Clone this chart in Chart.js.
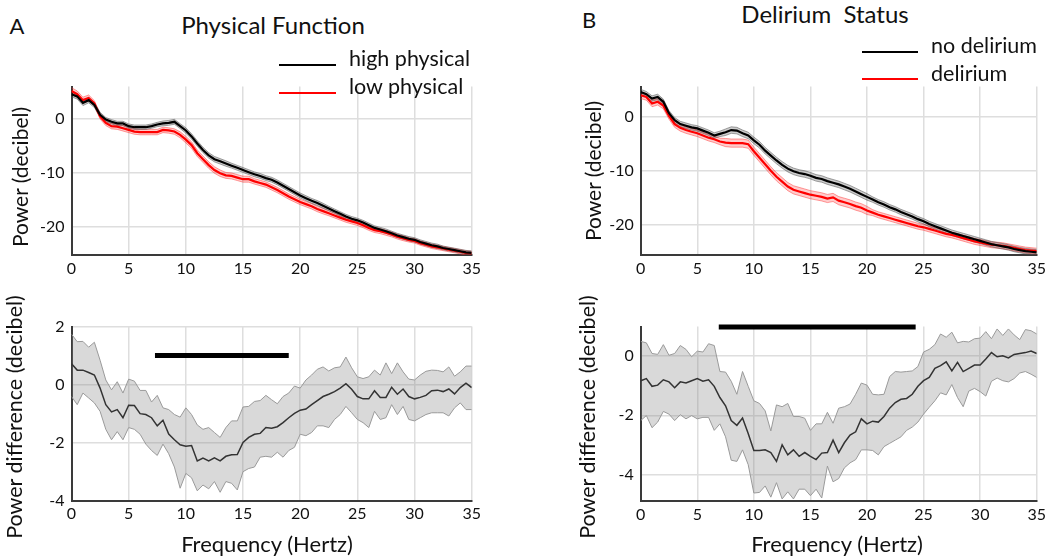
<!DOCTYPE html>
<html>
<head>
<meta charset="utf-8">
<script src="https://cdn.jsdelivr.net/npm/chart.js@4"></script>
<style>
  body { margin: 0; width: 1050px; height: 559px; background: #fff; position: relative; overflow: hidden; font-family: Lato, "Open Sans", sans-serif; color: #111; }
  canvas { position: absolute; }
  .t { position: absolute; white-space: pre; transform: translate(-50%, -50%); }
  .l { position: absolute; white-space: pre; transform: translate(0, -50%); }
  .rot { position: absolute; white-space: pre; transform: translate(-50%, -50%) rotate(-90deg); }
  .key { position: absolute; height: 0; border-top: 2px solid #000; }
</style>
</head>
<body>
<canvas id="topA" width="500" height="215" style="left:0;top:70px"></canvas>
<canvas id="topB" width="490" height="215" style="left:560px;top:70px"></canvas>
<canvas id="botA" width="500" height="220" style="left:0;top:310px"></canvas>
<canvas id="botB" width="490" height="220" style="left:560px;top:310px"></canvas>

<div class="t" style="left:17px;top:25px;font-size:22px">A</div>
<div class="t" style="left:273px;top:24px;font-size:24px">Physical Function</div>
<div class="key" style="left:279px;top:64px;width:57px;border-color:#000"></div>
<div class="key" style="left:279px;top:92px;width:57px;border-color:#f00"></div>
<div class="l" style="left:349px;top:58px;font-size:21.5px">high physical</div>
<div class="l" style="left:349px;top:86px;font-size:21.5px">low physical</div>

<div class="t" style="left:589px;top:19px;font-size:22px">B</div>
<div class="t" style="left:825px;top:13px;font-size:24px">Delirium  Status</div>
<div class="key" style="left:862px;top:51px;width:56px;border-color:#000"></div>
<div class="key" style="left:862px;top:78px;width:56px;border-color:#f00"></div>
<div class="l" style="left:931px;top:45px;font-size:21.5px">no delirium</div>
<div class="l" style="left:931px;top:73px;font-size:21.5px">delirium</div>

<div class="rot" style="left:19px;top:177px;font-size:21px">Power (decibel)</div>
<div class="rot" style="left:592px;top:171px;font-size:21px">Power (decibel)</div>
<div class="rot" style="left:14px;top:417px;font-size:21.5px">Power difference (decibel)</div>
<div class="rot" style="left:587px;top:417px;font-size:21.5px">Power difference (decibel)</div>
<div class="t" style="left:267px;top:543px;font-size:22px">Frequency (Hertz)</div>
<div class="t" style="left:837px;top:543px;font-size:22px">Frequency (Hertz)</div>

<script>
// frequency bins (Hz)
const freqs = [0,0.5,1,1.5,2,2.5,3,3.5,4,4.5,5,5.5,6,6.5,7,7.5,8,8.5,9,9.5,10,10.5,11,11.5,12,12.5,13,13.5,14,14.5,15,15.5,16,16.5,17,17.5,
  18,18.5,19,19.5,20,20.5,21,21.5,22,22.5,23,23.5,24,24.5,25,25.5,26,26.5,27,27.5,28,28.5,29,29.5,30,30.5,31,31.5,32,32.5,33,33.5,34,34.5,35];

// A: physical function, mean power (dB) and standard error
const highPhys = [4.5,4.1,2.9,3.4,2.5,0.7,-0.2,-0.6,-0.9,-0.9,-1.4,-1.6,-1.6,-1.6,-1.4,-1.1,-0.9,
  -0.8,-0.6,-1.4,-2.2,-3.3,-4.6,-5.8,-6.8,-7.5,-7.9,-8.3,-8.7,-9.1,-9.5,-9.9,-10.3,-10.6,-11.0,
  -11.3,-11.8,-12.4,-13.0,-13.6,-14.2,-14.7,-15.2,-15.6,-16.1,-16.6,-17.1,-17.6,-18.1,-18.5,-18.8,-19.2,-19.7,
  -20.2,-20.5,-20.8,-21.2,-21.6,-21.9,-22.2,-22.4,-22.8,-23.1,-23.4,-23.6,-23.9,-24.1,-24.3,-24.5,-24.7,-24.8];
const lowPhys = [5.1,4.5,3.4,3.8,2.8,0.4,-0.8,-1.4,-1.5,-1.8,-2.1,-2.4,-2.5,-2.5,-2.5,-2.5,-2.1,-2.2,
  -2.4,-3.0,-3.9,-4.9,-6.4,-7.5,-8.6,-9.5,-10.1,-10.5,-10.6,-10.9,-11.2,-11.2,-11.6,-11.9,-12.2,
  -12.7,-13.2,-13.8,-14.4,-14.9,-15.4,-15.8,-16.2,-16.7,-17.1,-17.5,-17.9,-18.3,-18.7,-19.0,-19.3,-19.7,-20.2,
  -20.6,-20.8,-21.1,-21.4,-21.8,-22.1,-22.4,-22.6,-23.0,-23.3,-23.6,-23.8,-24.0,-24.2,-24.4,-24.6,-24.8,-24.9];
const semHigh = [0.5,0.5,0.5,0.5,0.45,0.45,0.4,0.4,0.4,0.4,0.4,0.4,0.4,0.4,0.4,0.4,0.45,0.45,0.45,0.45,
  0.5,0.5,0.5,0.5,0.5,0.5,0.5,0.5,0.45,0.45,0.45,0.45,0.45,0.45,0.45,0.45,0.45,0.45,0.45,0.45,
  0.45,0.45,0.45,0.45,0.45,0.4,0.4,0.4,0.4,0.4,0.4,0.4,0.4,0.4,0.4,0.4,0.4,0.4,0.4,0.4,
  0.4,0.4,0.4,0.4,0.4,0.35,0.35,0.35,0.35,0.35,0.35];
const semLow = [0.6,0.6,0.55,0.55,0.5,0.5,0.5,0.5,0.5,0.5,0.5,0.5,0.5,0.5,0.5,0.5,0.5,0.5,0.5,0.55,
  0.6,0.6,0.6,0.6,0.6,0.6,0.6,0.55,0.55,0.55,0.55,0.55,0.5,0.5,0.5,0.5,0.5,0.5,0.5,0.5,
  0.5,0.5,0.5,0.5,0.5,0.45,0.45,0.45,0.45,0.45,0.45,0.45,0.45,0.45,0.45,0.45,0.45,0.45,0.45,0.4,
  0.4,0.4,0.4,0.4,0.4,0.4,0.4,0.4,0.4,0.4,0.4];

// B: delirium status
const noDelirium = [4.5,4.1,3.3,3.6,2.7,0.6,-0.7,-1.4,-1.7,-2.0,-2.2,-2.6,-3.0,-3.5,-3.2,-2.9,-2.5,-2.6,
  -3.1,-3.5,-4.4,-5.2,-6.3,-7.2,-8.1,-8.9,-9.6,-10.1,-10.4,-10.6,-10.9,-11.3,-11.5,-11.9,-12.2,-12.5,
  -12.9,-13.3,-13.8,-14.3,-14.8,-15.3,-15.8,-16.2,-16.7,-17.1,-17.6,-18.0,-18.4,-18.9,-19.3,-19.8,-20.2,
  -20.6,-21.0,-21.4,-21.7,-22.0,-22.3,-22.6,-22.9,-23.2,-23.5,-23.7,-23.9,-24.1,-24.4,-24.6,-24.8,-24.9,-25.0];
const delirium = [3.9,3.6,2.4,2.7,2.0,0.1,-1.4,-2.1,-2.5,-2.8,-3.1,-3.5,-3.9,-4.2,-4.6,-4.8,-4.9,-4.9,
  -4.9,-5.1,-6.4,-7.6,-8.8,-10.0,-11.1,-12.0,-12.9,-13.5,-13.8,-14.1,-14.4,-14.6,-14.8,-15.1,-14.9,-15.5,
  -15.8,-16.1,-16.5,-16.8,-17.3,-17.7,-18.1,-18.4,-18.7,-19.0,-19.3,-19.6,-19.9,-20.2,-20.4,-20.7,-21.0,
  -21.3,-21.6,-21.8,-22.1,-22.4,-22.7,-23.0,-23.2,-23.4,-23.6,-23.7,-23.8,-24.0,-24.2,-24.4,-24.6,-24.7,-24.8];
const semNoDel = [0.5,0.5,0.5,0.5,0.5,0.5,0.5,0.5,0.5,0.5,0.5,0.5,0.5,0.5,0.5,0.6,0.6,0.6,0.6,0.6,
  0.6,0.6,0.6,0.6,0.6,0.6,0.6,0.6,0.6,0.6,0.6,0.6,0.6,0.6,0.6,0.6,0.6,0.6,0.6,0.6,
  0.6,0.5,0.5,0.5,0.5,0.5,0.5,0.5,0.5,0.5,0.5,0.5,0.5,0.5,0.5,0.5,0.5,0.5,0.5,0.5,
  0.5,0.5,0.5,0.5,0.5,0.5,0.5,0.5,0.5,0.5,0.5];
const semDel = [0.6,0.6,0.6,0.6,0.6,0.6,0.6,0.6,0.6,0.6,0.6,0.6,0.6,0.6,0.6,0.75,0.75,0.75,0.75,0.75,
  0.75,0.75,0.75,0.75,0.75,0.75,0.75,0.75,0.75,0.75,0.75,0.75,0.75,0.75,0.75,0.75,0.75,0.75,0.75,0.75,
  0.75,0.55,0.55,0.55,0.55,0.55,0.55,0.55,0.55,0.55,0.55,0.55,0.55,0.55,0.55,0.55,0.55,0.55,0.55,0.55,
  0.55,0.55,0.55,0.55,0.55,0.55,0.55,0.55,0.55,0.55,0.55];

// power differences with confidence bounds
const diffA = [0.72,0.5,0.5,0.42,0.33,-0.12,-0.69,-0.94,-0.86,-1.14,-0.71,-0.72,-1.0,-1.03,-1.14,-1.42,-1.23,-1.7,
  -1.9,-2.07,-2.12,-2.1,-2.63,-2.53,-2.63,-2.52,-2.63,-2.47,-2.42,-2.41,-1.99,-1.82,-1.71,-1.68,-1.48,-1.5,
  -1.45,-1.31,-1.14,-0.99,-0.88,-0.84,-0.69,-0.55,-0.41,-0.33,-0.24,-0.12,0.03,-0.16,-0.41,-0.49,-0.49,
  -0.21,-0.44,-0.44,-0.09,-0.33,-0.15,-0.41,-0.49,-0.44,-0.37,-0.21,-0.19,-0.24,-0.15,-0.32,-0.1,0.05,-0.1];
const diffAHi = [1.74,1.48,1.49,1.29,1.46,0.84,0.16,-0.18,0.1,-0.29,0.19,0.12,-0.2,-0.2,-0.6,-0.37,-0.8,-0.86,
  -1.03,-1.12,-0.8,-1.03,-1.39,-1.54,-1.48,-1.65,-1.82,-1.48,-1.25,-1.25,-0.77,-0.75,-0.58,-0.55,-0.37,-0.52,
  -0.66,-0.41,-0.29,-0.05,-0.12,0.16,0.33,0.53,0.61,0.47,0.58,0.61,0.95,0.58,0.27,0.21,0.27,
  0.5,0.33,0.75,0.38,0.75,0.44,0.19,0.16,0.33,0.46,0.5,0.49,0.44,0.61,0.29,0.44,0.64,0.64];
const diffALo = [-0.41,-0.69,-0.29,-0.46,-0.63,-0.92,-1.54,-1.9,-1.62,-1.9,-1.48,-1.54,-1.71,-2.05,-2.27,-2.44,-2.05,-2.38,
  -2.84,-3.57,-3.06,-3.21,-3.66,-3.46,-3.59,-3.34,-3.71,-3.34,-3.4,-3.63,-3.0,-2.89,-2.84,-2.5,-2.47,-2.5,
  -2.33,-2.5,-2.27,-2.16,-1.71,-1.76,-1.65,-1.42,-1.42,-1.48,-1.2,-1.03,-0.75,-0.97,-1.2,-1.31,-1.48,
  -0.92,-1.2,-1.14,-0.69,-1.03,-0.75,-1.2,-1.25,-1.14,-1.03,-0.97,-0.97,-0.97,-1.08,-0.8,-0.63,-0.86,-0.86];
const diffB = [-0.83,-0.76,-1.02,-0.98,-0.8,-0.87,-1.07,-0.87,-0.91,-0.83,-0.76,-0.85,-0.8,-1.02,-1.4,-1.68,-2.18,-2.34,
  -2.09,-2.62,-3.19,-3.19,-3.17,-3.26,-3.56,-3.0,-3.34,-3.17,-3.39,-3.26,-3.39,-3.5,-3.28,-3.26,-2.84,-3.26,
  -2.93,-2.67,-2.56,-2.12,-2.29,-2.2,-2.23,-2.04,-1.76,-1.57,-1.46,-1.43,-1.29,-1.02,-0.83,-0.72,-0.41,
  -0.32,-0.19,-0.5,-0.21,-0.52,-0.41,-0.3,-0.3,-0.1,0.12,-0.02,0.01,-0.06,0.06,0.09,0.12,0.17,0.09];
const diffBHi = [0.5,0.45,0.09,0.06,0.39,0.03,0.09,0.36,0.23,-0.02,0.17,0.14,0.42,0.36,-0.52,-0.54,-0.85,-1.29,
  -0.52,-1.02,-1.51,-1.6,-1.85,-2.53,-1.65,-1.71,-1.6,-2.04,-2.04,-2.1,-2.51,-2.29,-2.29,-1.9,-2.27,-1.76,
  -1.71,-1.62,-1.29,-0.91,-0.98,-1.29,-1.31,-1.29,-0.69,-0.52,-0.54,-0.52,-0.5,-0.35,0.14,0.23,0.39,
  0.75,0.64,0.81,0.45,0.5,0.48,0.59,0.61,0.83,0.59,0.92,0.7,0.92,0.72,0.56,0.9,0.86,0.75];
const diffBLo = [-2.18,-2.01,-2.42,-2.23,-1.87,-1.96,-2.18,-1.98,-2.12,-2.01,-2.12,-2.07,-2.07,-2.51,-2.29,-2.73,-3.52,-3.56,
  -3.17,-3.67,-4.63,-4.61,-4.39,-4.77,-4.28,-4.83,-4.59,-4.83,-4.5,-4.5,-4.72,-4.5,-4.8,-3.72,-4.25,-4.14,
  -3.78,-3.61,-3.5,-3.17,-3.17,-3.19,-3.34,-3.06,-2.95,-2.84,-2.73,-2.51,-2.4,-2.23,-1.96,-1.73,-1.51,
  -1.24,-1.31,-0.96,-1.4,-1.71,-1.18,-1.09,-1.2,-1.35,-0.85,-0.74,-0.83,-0.87,-0.76,-0.57,-0.52,-0.61,-0.72];

// significant frequency ranges [start, end] in Hz, drawn as a bar
const sigA = [7.3, 19.0];
const sigB = [6.9, 24.3];

const tickFont = { family: 'Lato, "Open Sans", sans-serif', size: 16 };

function pts(ys) {
  return freqs.map((f, i) => ({ x: f, y: ys[i] }));
}
function plus(ys, e) { return ys.map((v, i) => v + e[i]); }
function minus(ys, e) { return ys.map((v, i) => v - e[i]); }

function makeChart(id, datasets, yMin, yMax, yTicks, yWidth, xHeight, pad) {
  const grid = { color: '#dedede', lineWidth: 1.5, drawTicks: false };
  const border = { color: '#3a3a3a', width: 2 };
  return new Chart(document.getElementById(id), {
    type: 'line',
    data: { datasets: datasets },
    options: {
      responsive: false,
      animation: false,
      layout: { padding: pad },
      elements: { point: { radius: 0 }, line: { tension: 0 } },
      plugins: { legend: { display: false }, tooltip: { enabled: false } },
      scales: {
        x: {
          type: 'linear', min: 0, max: 35,
          ticks: { stepSize: 5, padding: 4, font: tickFont, color: '#111', maxRotation: 0 },
          grid: grid, border: border,
          afterFit: s => { s.height = xHeight; }
        },
        y: {
          min: yMin, max: yMax,
          afterBuildTicks: s => { s.ticks = yTicks.map(v => ({ value: v })); },
          ticks: { padding: 7, font: tickFont, color: '#111' },
          grid: grid, border: border,
          afterFit: s => { s.width = yWidth; }
        }
      }
    }
  });
}

function spectrumSets(m1, e1, m2, e2) {
  const grayEdge = 'rgba(90,90,90,0.55)';
  const redEdge = 'rgba(255,60,60,0.5)';
  return [
    { data: pts(plus(m1, e1)), borderColor: grayEdge, borderWidth: 1, fill: false, order: 2 },
    { data: pts(minus(m1, e1)), borderColor: grayEdge, borderWidth: 1, fill: '-1', backgroundColor: 'rgba(0,0,0,0.2)', order: 2 },
    { data: pts(plus(m2, e2)), borderColor: redEdge, borderWidth: 1, fill: false, order: 3 },
    { data: pts(minus(m2, e2)), borderColor: redEdge, borderWidth: 1, fill: '-1', backgroundColor: 'rgba(255,0,0,0.2)', order: 3 },
    { data: pts(m2), borderColor: '#ff0000', borderWidth: 2.2, fill: false, order: 1 },
    { data: pts(m1), borderColor: '#000', borderWidth: 2.2, fill: false, order: 0 }
  ];
}

function diffSets(m, hi, lo, sig, sigY) {
  const edge = '#9a9a9a';
  return [
    { data: pts(hi), borderColor: edge, borderWidth: 1, fill: false, order: 2 },
    { data: pts(lo), borderColor: edge, borderWidth: 1, fill: '-1', backgroundColor: 'rgba(128,128,128,0.3)', order: 2 },
    { data: pts(m), borderColor: '#333', borderWidth: 1.5, fill: false, order: 1 },
    { data: [{ x: sig[0], y: sigY }, { x: sig[1], y: sigY }], borderColor: '#000', borderWidth: 5, fill: false, clip: false, order: 0 }
  ];
}

makeChart('topA', spectrumSets(highPhys, semHigh, lowPhys, semLow), -25.2, 5.9, [-20, -10, 0], 71.5, 30,
  { top: 9, right: 28.3, left: 0, bottom: 0 });
makeChart('topB', spectrumSets(noDelirium, semNoDel, delirium, semDel), -25.5, 5.5, [-20, -10, 0], 80.7, 30,
  { top: 9, right: 13, left: 0, bottom: 0 });
makeChart('botA', diffSets(diffA, diffAHi, diffALo, sigA, 1.0), -4, 2, [-4, -2, 0, 2], 71.5, 29.3,
  { top: 14.3, right: 28.3, left: 0, bottom: 0 });
makeChart('botB', diffSets(diffB, diffBHi, diffBLo, sigB, 0.99), -4.9, 1.0, [-4, -2, 0], 80.7, 29,
  { top: 14.3, right: 13, left: 0, bottom: 0 });
</script>
</body>
</html>
